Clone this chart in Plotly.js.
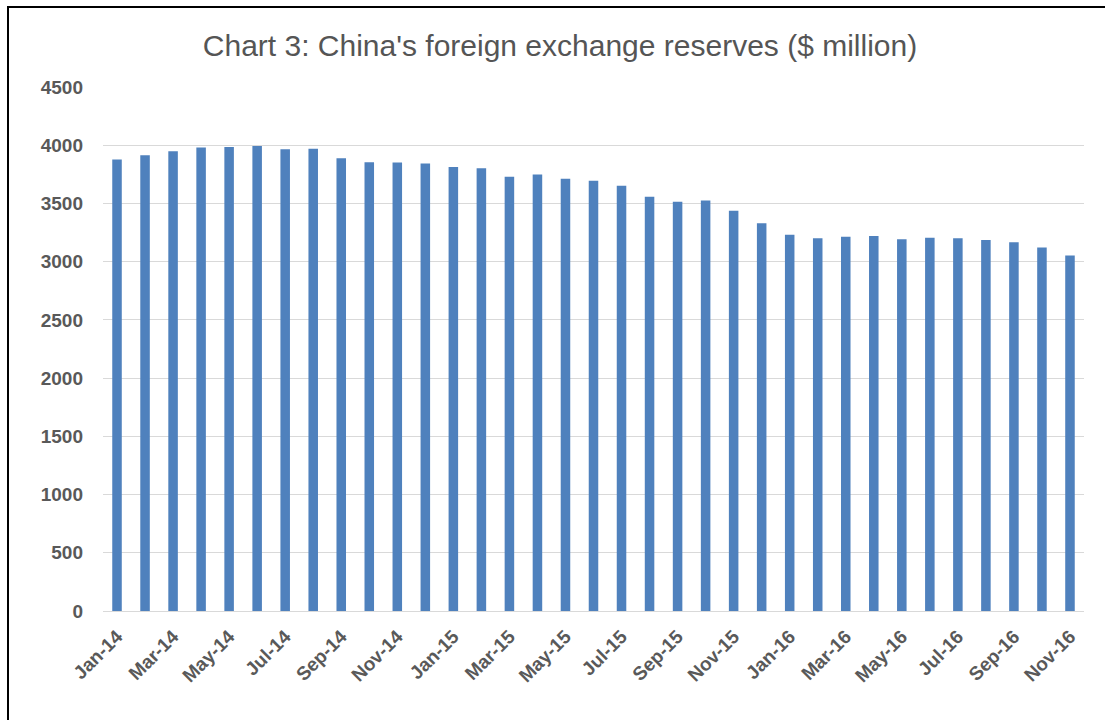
<!DOCTYPE html>
<html>
<head>
<meta charset="utf-8">
<script src="https://cdn.plot.ly/plotly-3.0.1.min.js"></script>
<style>
  html, body { margin: 0; padding: 0; background: #fff; }
  #wrap { position: relative; width: 1105px; height: 720px; overflow: hidden; }
  #chart { position: absolute; left: 0; top: 0; width: 1105px; height: 720px; }
  #frame { position: absolute; left: 7px; top: 6px; width: 1200px; height: 800px;
           border-left: 2px solid #000; border-top: 2px solid #000; pointer-events: none; }
</style>
</head>
<body>
<div id="wrap">
  <div id="chart"></div>
  <div id="frame"></div>
</div>
<script>
const months = [
  "Jan-14","Feb-14","Mar-14","Apr-14","May-14","Jun-14","Jul-14","Aug-14","Sep-14","Oct-14","Nov-14","Dec-14",
  "Jan-15","Feb-15","Mar-15","Apr-15","May-15","Jun-15","Jul-15","Aug-15","Sep-15","Oct-15","Nov-15","Dec-15",
  "Jan-16","Feb-16","Mar-16","Apr-16","May-16","Jun-16","Jul-16","Aug-16","Sep-16","Oct-16","Nov-16"
];
const reserves = [
  3877, 3914, 3948, 3981, 3984, 3993, 3966, 3969, 3888, 3853, 3852, 3843,
  3813, 3802, 3730, 3748, 3711, 3694, 3651, 3557, 3514, 3525, 3438, 3330,
  3231, 3202, 3213, 3220, 3192, 3205, 3201, 3185, 3166, 3121, 3052
];
const tickLabels = months.filter((m, i) => i % 2 === 0);
const yTicks = [0, 500, 1000, 1500, 2000, 2500, 3000, 3500, 4000, 4500];

const trace = {
  type: "bar",
  x: months,
  y: reserves,
  marker: { color: "#4f81bd" },
  hoverinfo: "x+y"
};

const layout = {
  width: 1105,
  height: 720,
  margin: { l: 103, r: 21, t: 87, b: 109 },
  paper_bgcolor: "#ffffff",
  plot_bgcolor: "#ffffff",
  bargap: 0.66,
  showlegend: false,
  title: {
    text: "Chart 3: China's foreign exchange reserves ($ million)",
    font: { family: "Liberation Sans, Arial, sans-serif", size: 30, color: "#555555" },
    x: 560 / 1105, xanchor: "center",
    y: 1 - 45 / 720, yanchor: "middle"
  },
  xaxis: {
    type: "category",
    tickmode: "array",
    tickvals: tickLabels,
    ticktext: tickLabels,
    tickangle: -45,
    tickfont: { family: "Liberation Sans, Arial, sans-serif", size: 19, color: "#595959", weight: "bold" },
    showgrid: false,
    showline: true,
    linecolor: "#d9d9d9",
    linewidth: 1,
    ticks: "",
    ticklabelstandoff: 6,
    zeroline: false,
    fixedrange: true
  },
  yaxis: {
    range: [0, 4500],
    tickmode: "array",
    tickvals: yTicks,
    ticktext: yTicks.map(String),
    tickfont: { family: "Liberation Sans, Arial, sans-serif", size: 19, color: "#595959", weight: "bold" },
    showgrid: true,
    gridcolor: "#d9d9d9",
    gridwidth: 1,
    zeroline: false,
    showline: false,
    ticks: "",
    ticklabelstandoff: 19,
    fixedrange: true
  }
};

Plotly.newPlot("chart", [trace], layout, { displayModeBar: false, staticPlot: true });
</script>
</body>
</html>
